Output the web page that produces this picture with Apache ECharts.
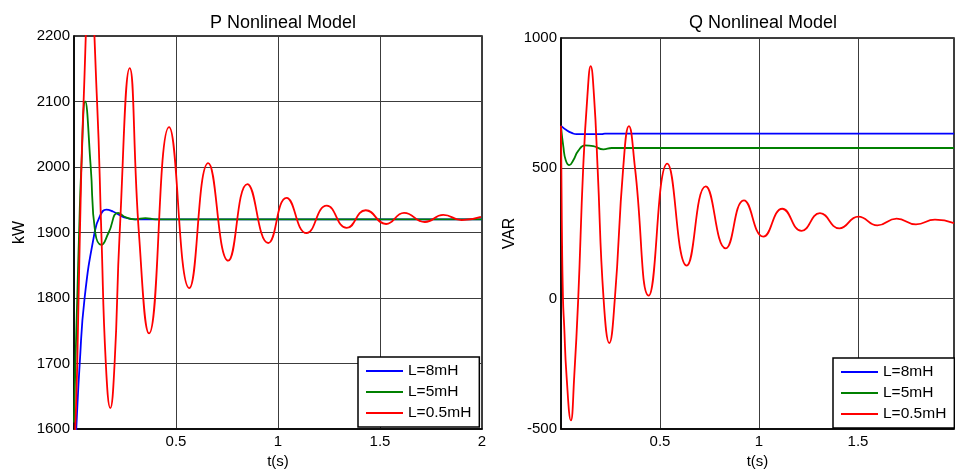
<!DOCTYPE html>
<html>
<head>
<meta charset="utf-8">
<title>P / Q Nonlineal Model</title>
<script src="https://cdn.jsdelivr.net/npm/echarts@6/dist/echarts.min.js"></script>
<style>
  html, body { margin: 0; padding: 0; background: #fff; }
  #chart { width: 955px; height: 470px; }
</style>
</head>
<body>
<div id="chart"></div>
<script>
// Series names shown in both legends
const seriesNames = ['L=8mH', 'L=5mH', 'L=0.5mH'];
const seriesColors = ['#0000ff', '#008000', '#ff0000'];

// Active power P (kW) vs time t (s): [t, P]
const pL8 = [
  [0, 1530], [0.011, 1600], [0.028, 1700], [0.052, 1800], [0.101, 1900],
  [0.127, 1925], [0.158, 1935], [0.191, 1932], [0.24, 1924], [0.3, 1920], [2, 1920]
];
const pL5 = [
  [0, 1610], [0.007, 1700], [0.016, 1800], [0.025, 1900], [0.036, 2000],
  [0.055, 2100], [0.082, 2000], [0.104, 1900], [0.134, 1881], [0.17, 1900],
  [0.216, 1930], [0.255, 1923], [0.3, 1920], [0.35, 1922], [0.4, 1920], [2, 1920]
];
const pL05 = [
  [0, 1560], [0.006, 1600], [0.016, 1700], [0.029, 1900], [0.047, 2100],
  [0.078, 2285], [0.113, 2100], [0.134, 1900], [0.156, 1700], [0.178, 1632],
  [0.199, 1700], [0.224, 1900], [0.273, 2151], [0.318, 1900], [0.368, 1746],
  [0.466, 2061], [0.565, 1815], [0.658, 2006], [0.756, 1857], [0.85, 1974],
  [0.952, 1884], [1.042, 1953], [1.14, 1899], [1.239, 1941], [1.337, 1907],
  [1.43, 1934], [1.53, 1913], [1.618, 1930], [1.72, 1916], [1.81, 1927],
  [1.9, 1919], [1.995, 1924]
];

// Reactive power Q (VAR) vs time t (s): [t, Q]
const qL8 = [
  [0, 663], [0.029, 646], [0.054, 636], [0.079, 631], [0.205, 631],
  [0.222, 633], [1.985, 633]
];
const qL5 = [
  [0, 660], [0.012, 582], [0.024, 531], [0.042, 512], [0.062, 531],
  [0.087, 567], [0.121, 588], [0.163, 585], [0.214, 573], [0.256, 578], [1.985, 578]
];
const qL05 = [
  [0, 663], [0.004, 300], [0.01, 0], [0.016, -104], [0.028, -296], [0.05, -467],
  [0.067, -296], [0.087, 0], [0.112, 500], [0.133, 774], [0.15, 892],
  [0.167, 774], [0.185, 500], [0.215, 0], [0.244, -170], [0.272, 0],
  [0.314, 500], [0.343, 662], [0.374, 500], [0.443, 12], [0.537, 518],
  [0.635, 127], [0.731, 431], [0.832, 193], [0.924, 377], [1.022, 238],
  [1.118, 345], [1.215, 260], [1.308, 328], [1.406, 270], [1.502, 315],
  [1.598, 281], [1.695, 307], [1.793, 285], [1.889, 303], [1.985, 290]
];

// Axis ranges and tick spacing
const pRange = { min: 1600, max: 2200, interval: 100 };
const qRange = { min: -500, max: 1000, interval: 500 };
const pTime = { min: 0, max: 2, interval: 0.5 };
const qTime = { min: 0, max: 1.985, interval: 0.5 };

const FONT = '"Liberation Sans", Arial, sans-serif';
const gridLineStyle = { color: '#3c3c3c', width: 1 };

function timeAxis(gridIndex, range) {
  return {
    type: 'value', gridIndex,
    min: range.min, max: range.max, interval: range.interval,
    name: 't(s)', nameLocation: 'middle', nameGap: 22,
    nameTextStyle: { fontFamily: FONT, fontSize: 15, color: '#000' },
    axisLine: { show: true, onZero: false, lineStyle: { color: '#000', width: 1.5 } },
    axisTick: { show: false },
    splitLine: { show: true, lineStyle: gridLineStyle },
    axisLabel: {
      fontFamily: FONT, fontSize: 15, color: '#000', margin: 5,
      showMaxLabel: range.max % range.interval === 0,
      formatter: v => (v === 0 ? '' : String(v))
    }
  };
}

function valueAxis(gridIndex, range, name, gap) {
  return {
    type: 'value', gridIndex,
    min: range.min, max: range.max, interval: range.interval,
    name, nameLocation: 'middle', nameGap: gap,
    nameTextStyle: { fontFamily: FONT, fontSize: 16, color: '#000' },
    axisLine: { show: true, onZero: false, lineStyle: { color: '#000', width: 1.5 } },
    axisTick: { show: false },
    splitLine: { show: true, lineStyle: gridLineStyle },
    axisLabel: { fontFamily: FONT, fontSize: 15, color: '#000', margin: 4,
      formatter: v => String(v) }
  };
}

function legendAt(left, top) {
  return {
    data: seriesNames, orient: 'vertical', left, top,
    icon: 'rect', itemWidth: 37, itemHeight: 2, itemGap: 5,
    padding: [6, 8, 6, 8],
    backgroundColor: '#fff', borderColor: '#000', borderWidth: 1.5, borderRadius: 0,
    textStyle: { fontFamily: FONT, fontSize: 15.5, color: '#000' },
    selectedMode: false
  };
}

function lineSeries(name, color, data, axisIndex) {
  return {
    type: 'line', name, data, color,
    xAxisIndex: axisIndex, yAxisIndex: axisIndex,
    showSymbol: false, symbol: 'none', smooth: 0.5, clip: true,
    lineStyle: { color, width: 1.8 },
    emphasis: { disabled: true }
  };
}

const chart = echarts.init(document.getElementById('chart'), null, { renderer: 'canvas' });
chart.setOption({
  animation: false,
  backgroundColor: '#fff',
  title: [
    { text: 'P Nonlineal Model', left: 278, top: 9, textAlign: 'center',
      textStyle: { fontFamily: FONT, fontSize: 18, fontWeight: 'normal', color: '#000' } },
    { text: 'Q Nonlineal Model', left: 758, top: 9, textAlign: 'center',
      textStyle: { fontFamily: FONT, fontSize: 18, fontWeight: 'normal', color: '#000' } }
  ],
  grid: [
    { left: 74, top: 36, width: 408, height: 393, show: true, borderColor: '#000', borderWidth: 1.5,
      containLabel: false, outerBoundsMode: 'none' },
    { left: 561, top: 38, width: 393, height: 391, show: true, borderColor: '#000', borderWidth: 1.5,
      containLabel: false, outerBoundsMode: 'none' }
  ],
  xAxis: [timeAxis(0, pTime), timeAxis(1, qTime)],
  yAxis: [valueAxis(0, pRange, 'kW', 46), valueAxis(1, qRange, 'VAR', 43)],
  legend: [legendAt(358, 357), legendAt(833, 358)],
  series: [
    lineSeries(seriesNames[0], seriesColors[0], pL8, 0),
    lineSeries(seriesNames[1], seriesColors[1], pL5, 0),
    lineSeries(seriesNames[2], seriesColors[2], pL05, 0),
    lineSeries(seriesNames[0], seriesColors[0], qL8, 1),
    lineSeries(seriesNames[1], seriesColors[1], qL5, 1),
    lineSeries(seriesNames[2], seriesColors[2], qL05, 1)
  ]
});
</script>
</body>
</html>
